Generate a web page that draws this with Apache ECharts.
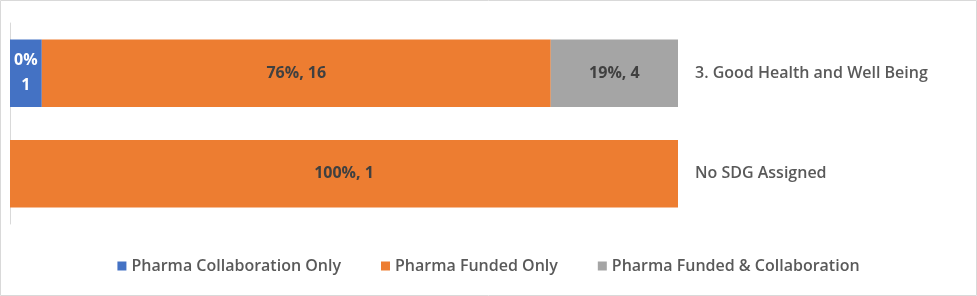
<!DOCTYPE html>
<html>
<head>
<meta charset="utf-8">
<script src="https://cdn.jsdelivr.net/npm/echarts@6/dist/echarts.min.js"></script>
<style>
html,body{margin:0;padding:0;background:#fff;}
#chart{width:977px;height:296px;}
</style>
</head>
<body>
<div id="chart"></div>
<script>
const categories = ['3. Good Health and Well Being', 'No SDG Assigned'];
const seriesNames = ['Pharma Collaboration Only', 'Pharma Funded Only', 'Pharma Funded & Collaboration'];
const collabCount = [1, 0];
const fundedCount = [16, 1];
const bothCount = [4, 0];
const collabPct = [0, null];
const fundedPct = [76, 100];
const bothPct = [19, null];
const colors = ['#4472c4', '#ed7d31', '#a5a5a5'];

const counts = [collabCount, fundedCount, bothCount];
const pcts = [collabPct, fundedPct, bothPct];
const totals = categories.map((c, i) => counts.reduce((s, arr) => s + arr[i], 0));

const FONT = 'Open Sans';

const series = counts.map((arr, si) => ({
  name: seriesNames[si],
  type: 'bar',
  stack: 'total',
  barCategoryGap: '33%',
  itemStyle: { color: colors[si] },
  data: arr.map((v, i) => v ? v / totals[i] * 100 : null),
  label: {
    show: true,
    position: 'inside',
    fontFamily: FONT,
    fontWeight: 'bold',
    fontSize: 16,
    lineHeight: 25,
    color: si === 0 ? '#ffffff' : '#404040',
    formatter: p => {
      const i = p.dataIndex;
      if (!arr[i]) return '';
      return si === 0 ? pcts[si][i] + '%\n' + arr[i] : pcts[si][i] + '%, ' + arr[i];
    }
  }
}));

const chart = echarts.init(document.getElementById('chart'), null, { renderer: 'canvas' });
chart.setOption({
  animation: false,
  graphic: [{
    type: 'rect',
    shape: { x: 0.5, y: 0.5, width: 976, height: 295 },
    style: { fill: null, stroke: '#d9d9d9', lineWidth: 1 },
    silent: true
  }],
  grid: { left: 10, right: 299, top: 23, bottom: 72 },
  xAxis: { type: 'value', min: 0, max: 100, show: false },
  yAxis: [{
    type: 'category',
    data: categories,
    inverse: true,
    position: 'left',
    axisLine: { show: true, lineStyle: { color: '#d9d9d9', width: 1 } },
    axisTick: { show: false },
    axisLabel: { show: false }
  }, {
    type: 'category',
    data: categories,
    inverse: true,
    position: 'right',
    axisLine: { show: false },
    axisTick: { show: false },
    axisLabel: {
      show: true,
      margin: 17,
      align: 'left',
      fontFamily: FONT,
      fontSize: 16,
      fontWeight: 600,
      color: '#595959'
    }
  }],
  legend: {
    bottom: 17,
    left: 'center',
    itemWidth: 9,
    itemHeight: 9,
    itemGap: 40,
    icon: 'rect',
    textStyle: { fontFamily: FONT, fontSize: 16, fontWeight: 600, color: '#595959' },
    data: seriesNames
  },
  series: series
});
</script>
</body>
</html>
